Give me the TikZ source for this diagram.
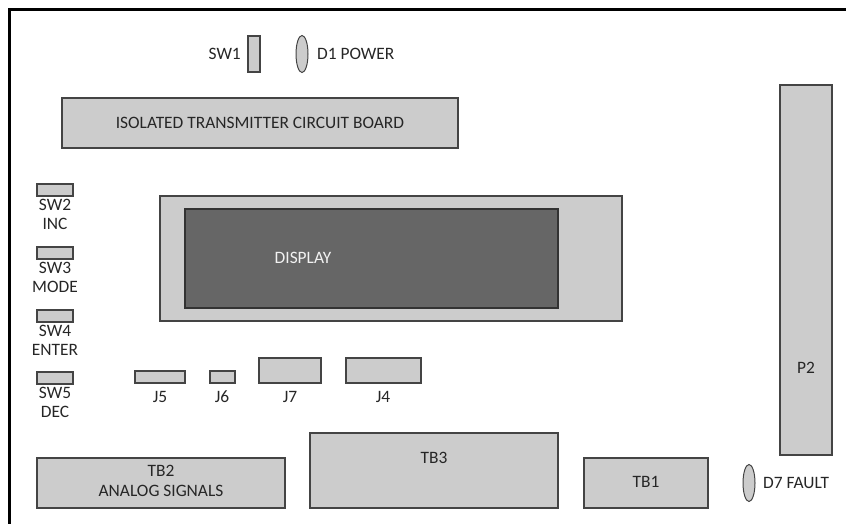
\documentclass[tikz,border=0pt]{standalone}
\usepackage{fontspec}
\setmainfont{Carlito}
\usetikzlibrary{shapes.geometric}
\definecolor{boxgray}{HTML}{CCCCCC}
\definecolor{dispgray}{HTML}{666666}
\definecolor{edgegray}{HTML}{444444}
\begin{document}
\begin{tikzpicture}[x=1pt,y=-1pt,
  part/.style={draw=edgegray,fill=boxgray,line width=1.2pt},
  lbl/.style={font=\fontsize{17.4}{20}\selectfont,inner sep=0pt,text=black!85},
  led/.style={ellipse,draw=edgegray,fill=boxgray,line width=1pt,minimum width=12pt,minimum height=37pt,inner sep=0pt}]
\useasboundingbox (0,0) rectangle (846,524);
% frame
\draw[line width=3pt] (9,524) -- (9,10) -- (846,10);
% SW1 and D1
\draw[part] (248,36) rectangle (260,72);
\node[lbl,anchor=east] (sw1) at (241,54) {SW1};
\node[led] (d1) at (302,54) {};
\node[lbl,anchor=west] (d1l) at (317,54) {D1 POWER};
% isolated board
\draw[part] (62,98) rectangle (458,148);
\node[lbl] (iso) at (260,123) {ISOLATED TRANSMITTER CIRCUIT BOARD};
% P2
\draw[part] (780,85) rectangle (832,455);
\node[lbl] (p2) at (806,368) {P2};
% switches
\foreach \y/\a/\b in {184/SW2/INC,247/SW3/MODE,310/SW4/ENTER,372/SW5/DEC}{
  \draw[part] (37,\y) rectangle (73,\y+12);
  \node[lbl] at (55,\y+21) {\a};
  \node[lbl] at (55,\y+40) {\b};
}
% display
\draw[part] (160,196) rectangle (622,321);
\draw[draw=black!80,fill=dispgray,line width=1.2pt] (185,209) rectangle (558,308);
\node[lbl,text=white!90!gray] (disp) at (303,258) {DISPLAY};
% connectors
\draw[part] (135,371) rectangle (185,383);
\node[lbl] (j5) at (160,397) {J5};
\draw[part] (210,371) rectangle (235,383);
\node[lbl] (j6) at (222,397) {J6};
\draw[part] (259,358) rectangle (321,383);
\node[lbl] (j7) at (290,397) {J7};
\draw[part] (346,358) rectangle (421,383);
\node[lbl] (j4) at (383,397) {J4};
% terminal blocks
\draw[part] (37,458) rectangle (285,508);
\node[lbl] (tb2) at (161,471) {TB2};
\node[lbl] (tb2b) at (161,491) {ANALOG SIGNALS};
\draw[part] (310,433) rectangle (558,508);
\node[lbl] (tb3) at (434,458) {TB3};
\draw[part] (584,458) rectangle (708,508);
\node[lbl] (tb1) at (646,482) {TB1};
\node[led] (d7) at (749,483) {};
\node[lbl,anchor=west] (d7l) at (763,483) {D7 FAULT};
\end{tikzpicture}
\end{document}
